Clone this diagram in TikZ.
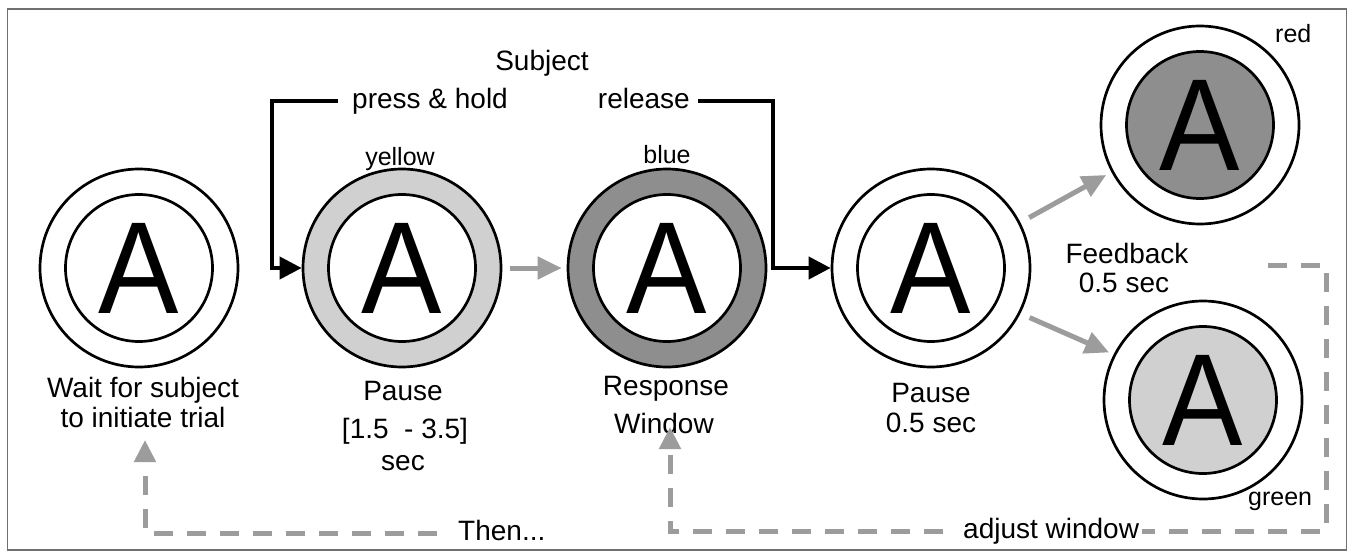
\documentclass[tikz,border=0pt]{standalone}
\usepackage{fontspec}
\setmainfont{Liberation Sans}
\usetikzlibrary{arrows.meta}
\definecolor{ringlight}{HTML}{D0D0D0}
\definecolor{ringdark}{HTML}{8E8E8E}
\definecolor{arrgray}{HTML}{9C9C9C}
\definecolor{framegray}{HTML}{707070}
\newcommand{\bigA}{\scalebox{0.92}[1]{A}}
\begin{document}
\begin{tikzpicture}[x=1pt,y=-1pt,
  outer/.style={circle, draw, line width=2.7pt, minimum size=198pt, inner sep=0pt},
  inner/.style={circle, draw, line width=2.7pt, minimum size=147pt, inner sep=0pt, fill=white, font=\fontsize{131}{131}\selectfont},
  lbl/.style={inner sep=0pt, font=\fontsize{28}{34}\selectfont, text height=20pt, text depth=6pt, anchor=base},
  small/.style={lbl, font=\fontsize{25}{30}\selectfont},
  blk/.style={line width=4pt, line join=miter, -{Triangle[length=22pt,width=22pt]}},
  garr/.style={arrgray, line width=5pt, -{Triangle[length=24pt,width=22pt]}},
  dsh/.style={arrgray, line width=5pt, dash pattern=on 19pt off 14pt},
  dsharr/.style={dsh, -{Triangle[length=22pt,width=21pt]}}]
\useasboundingbox (0,0) rectangle (1352,557);
\fill[white] (0,0) rectangle (1352,557);
\draw[framegray, line width=1.2pt] (7.5,9) rectangle (1346.5,550);

% circles
\node[outer] (c1) at (139,268) {};
\node[inner] (c1i) at (c1) {\bigA};
\node[outer, fill=ringlight] (c2) at (402,268) {};
\node[inner] (c2i) at (c2) {\bigA};
\node[outer, fill=ringdark] (c3) at (667,268) {};
\node[inner] (c3i) at (c3) {\bigA};
\node[outer] (c4) at (931,268) {};
\node[inner] (c4i) at (c4) {\bigA};
\node[outer] (red) at (1200,125) {};
\node[inner, fill=ringdark] (redi) at (red) {\bigA};
\node[outer] (green) at (1203,400) {};
\node[inner, fill=ringlight] (greeni) at (green) {\bigA};

% labels
\node[lbl] (wait1) at (143,397) {Wait for subject};
\node[lbl] (wait2) at (143,427) {to initiate trial};
\node[lbl] (p1) at (403,400) {Pause};
\node[lbl] (p2) at (405,438) {[1.5\ \ - 3.5]};
\node[lbl] (p3) at (403,470) {sec};
\node[lbl] (r1) at (666,395) {Response};
\node[lbl] (r2) at (664,433) {Window};
\node[lbl] (q1) at (931,402) {Pause};
\node[lbl] (q2) at (931,432) {0.5 sec};
\node[lbl] (fb1) at (1127,263) {Feedback};
\node[lbl] (fb2) at (1124,292) {0.5 sec};
\node[lbl] (subj) at (542,70) {Subject};
\node[lbl, anchor=base west] (ph) at (352,108) {press \& hold};
\node[lbl, anchor=base east] (rel) at (690,108) {release};
\node[small] (yel) at (400,165) {yellow};
\node[small] (blu) at (667,163) {blue};
\node[small, anchor=base west] (redl) at (1275,42) {red};
\node[small, anchor=base west] (greenl) at (1248,505) {green};
\node[lbl, anchor=base west] (then) at (458,540) {Then...};
\node[lbl, anchor=base west] (adj) at (963,538) {adjust window};

% connectors
\draw[blk] ([xshift=-14pt]ph.west) -| ([xshift=-30pt]c2.west) -- (c2.west);
\draw[blk] ([xshift=8pt]rel.east) -| ([xshift=-58pt]c4.west) -- (c4.west);
\draw[garr] ([xshift=8pt]c2.east) -- ([xshift=-5pt]c3.west);
\draw[garr, shorten <=10pt, shorten >=6pt] (c4.27) -- (red.208);
\draw[garr, shorten <=10pt, shorten >=5pt] (c4.-27) -- (green.153);
\coordinate (fbk) at (1268,265);
\coordinate (rc) at (1326,531);
\draw[dsh] (fbk) -| (rc) -- ([xshift=3pt]adj.east);
\draw[dsharr] ([xshift=-20pt]adj.west) -| ([xshift=6pt,yshift=6pt]r2.base);
\draw[dsharr] ([xshift=-21pt]then.west) -| ([xshift=2pt,yshift=-13pt]wait2.base);
\end{tikzpicture}
\end{document}
